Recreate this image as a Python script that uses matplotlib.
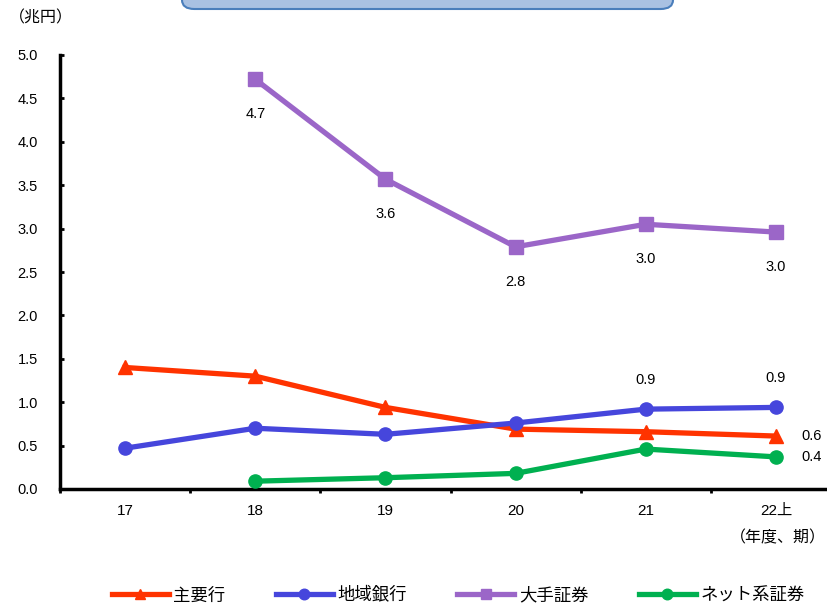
import matplotlib
matplotlib.use("Agg")
import matplotlib.pyplot as plt
from matplotlib.patches import FancyBboxPatch

plt.rcParams['font.family'] = ['Liberation Sans', 'Noto Sans CJK JP', 'DejaVu Sans']

# data (兆円)
periods = ["17", "18", "19", "20", "21", "22上"]
major_banks = [1.40, 1.30, 0.94, 0.69, 0.66, 0.61]
regional_banks = [0.47, 0.70, 0.63, 0.76, 0.92, 0.94]
big_securities = [None, 4.72, 3.57, 2.79, 3.05, 2.96]
net_securities = [None, 0.09, 0.13, 0.18, 0.46, 0.37]

series_names = ["主要行", "地域銀行", "大手証券", "ネット系証券"]
colors = ["#FF3300", "#4646DC", "#9B66C8", "#00B050"]
markers = ["^", "o", "s", "o"]

fig = plt.figure(figsize=(8.27, 6.04), dpi=100)
ax = fig.add_axes([60 / 827, 115 / 604, 781 / 827, 434 / 604])

x = list(range(len(periods)))
all_series = [major_banks, regional_banks, big_securities, net_securities]
lines = []
for vals, name, c, m in zip(all_series, series_names, colors, markers):
    xs = [i for i, v in zip(x, vals) if v is not None]
    ys = [v for v in vals if v is not None]
    ln, = ax.plot(xs, ys, color=c, marker=m, linewidth=3.8, markersize=9.5,
                  label=name, zorder=3, clip_on=False)
    lines.append(ln)

# value labels
for i in range(1, 6):
    ax.annotate(f"{big_securities[i]:.1f}", (i, big_securities[i]),
                xytext=(0, -25), textcoords="offset points",
                ha="center", va="center", fontsize=10.5)
for i in (4, 5):
    ax.annotate(f"{regional_banks[i]:.1f}", (i, regional_banks[i]),
                xytext=(0, 21), textcoords="offset points",
                ha="center", va="center", fontsize=10.5)
ax.annotate(f"{major_banks[5]:.1f}", (5, major_banks[5]),
            xytext=(18, 0), textcoords="offset points",
            ha="left", va="center", fontsize=10.5)
ax.annotate(f"{net_securities[5]:.1f}", (5, net_securities[5]),
            xytext=(18, 0), textcoords="offset points",
            ha="left", va="center", fontsize=10.5)

ax.set_xlim(-0.5, 5.5)
ax.set_ylim(0, 5.0)
ax.set_yticks([0, 0.5, 1.0, 1.5, 2.0, 2.5, 3.0, 3.5, 4.0, 4.5, 5.0])
ax.set_yticklabels([f"{v:.1f}" for v in ax.get_yticks()], fontsize=10.5)
ax.set_xticks([i - 0.5 for i in range(6)])
ax.set_xticklabels([])
ax.set_xticks(x, minor=True)
ax.set_xticklabels(periods, minor=True, fontsize=11)
ax.tick_params(axis="x", which="minor", length=0, pad=11)
ax.tick_params(axis="x", which="major", direction="out", length=3, width=2)
ax.tick_params(axis="y", direction="in", length=3, width=2, pad=16)

for side in ("top", "right"):
    ax.spines[side].set_visible(False)
ax.spines["left"].set_linewidth(2.5)
ax.spines["bottom"].set_linewidth(2.5)

fig.text(9 / 827, 1 - 18 / 604, "（兆円）", fontsize=11.5, va="center", ha="left")
fig.text(826 / 827, 1 - 538 / 604, "（年度、期）", fontsize=11.5, va="center", ha="right")

# title box (cut off at top edge)
box = FancyBboxPatch((182 / 827, 1 - 9 / 604), (673 - 182) / 827, 0.05,
                     boxstyle="round,pad=0,rounding_size=0.015",
                     transform=fig.transFigure, facecolor="#A9C1E2",
                     edgecolor="#4A7EBB", linewidth=1.5, clip_on=False)
fig.patches.append(box)

fig.legend(handles=lines, loc="center", bbox_to_anchor=(458 / 827, 1 - 595 / 604),
           ncol=4, frameon=False, fontsize=12.5, handlelength=3.3,
           handletextpad=0.25, columnspacing=2.9, markerscale=0.8)

fig.savefig("out.png", dpi=100)
